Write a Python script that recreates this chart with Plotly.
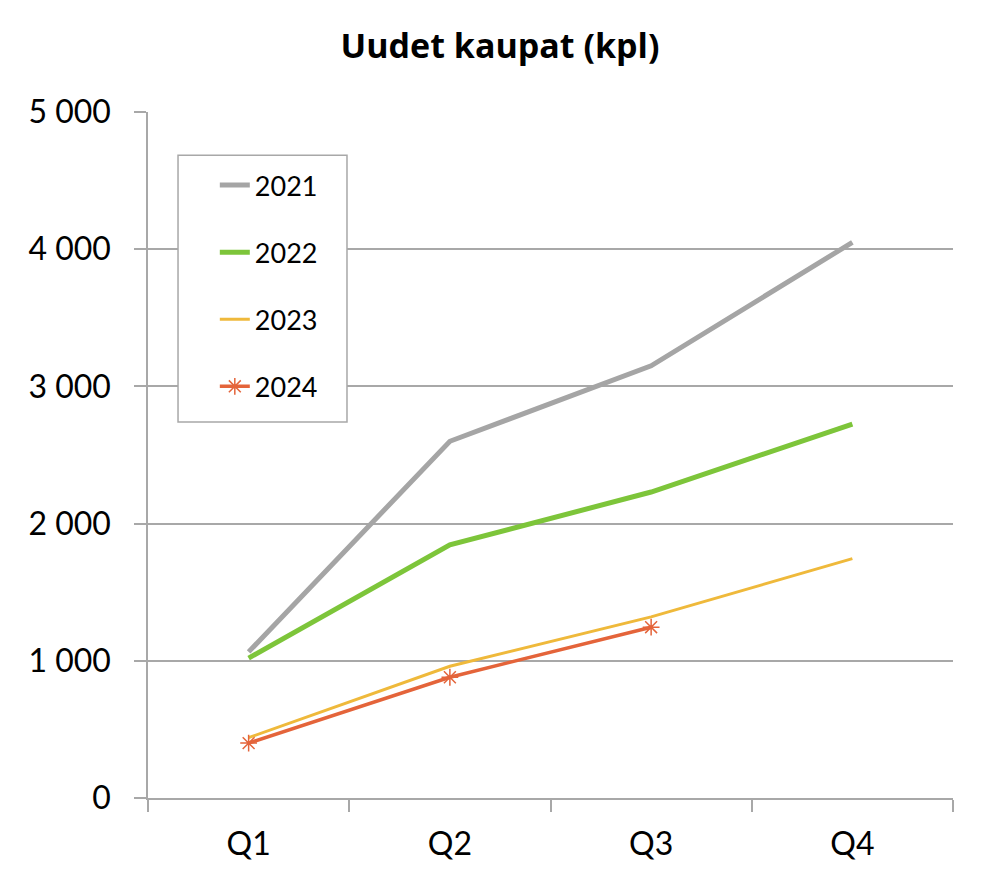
import plotly.graph_objects as go

quarters = ["Q1", "Q2", "Q3", "Q4"]
s2021 = [1065, 2600, 3150, 4050]
s2022 = [1020, 1845, 2230, 2725]
s2023 = [440, 960, 1320, 1745]
s2024 = [400, 880, 1245]

FONT = "Lato"
GRID = "#a8a8a8"
fig = go.Figure()
fig.add_trace(go.Scatter(x=quarters, y=s2021, name="2021", mode="lines",
                         line=dict(color="#a5a5a5", width=5), legendgroup="a"))
fig.add_trace(go.Scatter(x=quarters, y=s2022, name="2022", mode="lines",
                         line=dict(color="#7dc53a", width=5), legendgroup="b"))
fig.add_trace(go.Scatter(x=quarters, y=s2023, name="2023", mode="lines",
                         line=dict(color="#efb93b", width=3), legendgroup="c"))
fig.add_trace(go.Scatter(x=quarters[:3], y=s2024, name="2024", mode="lines+markers",
                         line=dict(color="#e4643a", width=3.5),
                         marker=dict(symbol="asterisk-open", size=14,
                                     line=dict(color="#e4643a", width=1.5)),
                         legendgroup="d"))

# legend frame
fig.add_shape(type="rect", xref="paper", yref="paper",
              x0=0.0373, x1=0.2472, y0=0.548, y1=0.937,
              line=dict(color=GRID, width=1.5), fillcolor="white", layer="above")

fig.update_layout(
    width=1000, height=894,
    margin=dict(l=148, r=47, t=112, b=96),
    paper_bgcolor="white", plot_bgcolor="white",
    separators=", ",
    font=dict(family=FONT, color="black", size=32),
    title=dict(text="<b>Uudet kaupat (kpl)</b>", x=0.5, xanchor="center",
               y=0.948, yanchor="middle", font=dict(family="Open Sans", size=34)),
    showlegend=True,
    legend=dict(x=0.083, y=0.9286, xanchor="left", yanchor="top",
                borderwidth=0, bgcolor="rgba(0,0,0,0)",
                font=dict(family=FONT, size=27), tracegroupgap=29,
                traceorder="grouped"),
    xaxis=dict(type="category", range=[-0.5, 3.5], tickson="boundaries",
               ticks="outside", ticklen=12, tickcolor=GRID, tickwidth=1.5,
               showline=True, linecolor=GRID, linewidth=1.5,
               showgrid=False, tickfont=dict(size=32), ticklabelstandoff=17,
               fixedrange=True),
    yaxis=dict(range=[0, 5000], tickvals=[0, 1000, 2000, 3000, 4000, 5000],
               tickformat=",d", ticks="outside", ticklen=12, tickcolor=GRID,
               tickwidth=1.5, showline=True, linecolor=GRID, linewidth=1.5,
               showgrid=True, gridcolor=GRID, gridwidth=1.5, zeroline=False,
               tickfont=dict(size=32), ticklabelstandoff=17),
)
fig.write_html("out.html")
